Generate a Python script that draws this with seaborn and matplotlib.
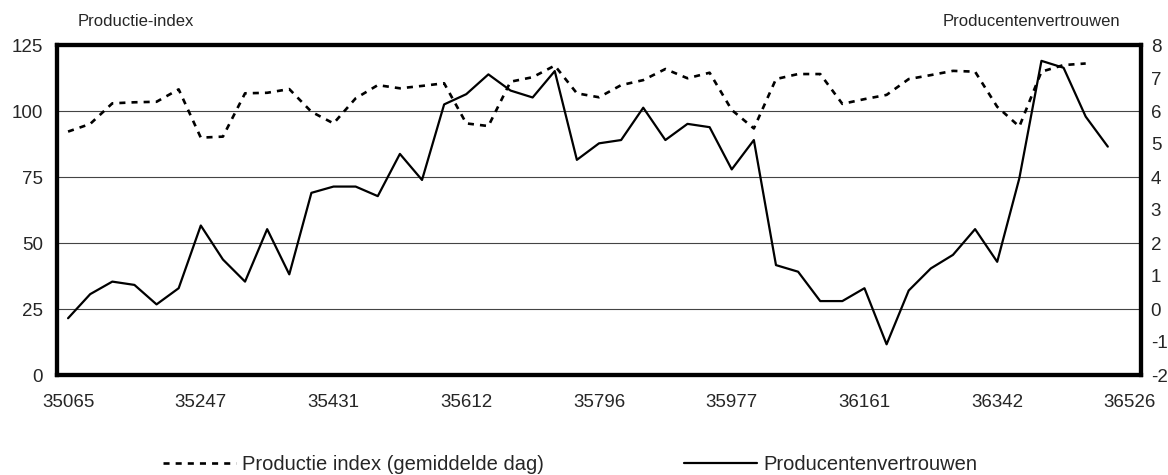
import numpy as np
import pandas as pd
import seaborn as sns
import matplotlib.pyplot as plt

# maanden jan 1996 .. jan 2000, as Excel serial numbers
months = pd.date_range('1996-01-01', periods=49, freq='MS')
serials = [(m - pd.Timestamp('1899-12-30')).days for m in months]

productie_index = [92.2, 95.1, 102.9, 103.3, 103.5, 108.2, 89.9, 90.3, 106.7, 106.9,
                   108.3, 99.7, 95.3, 104.8, 109.8, 108.6, 109.5, 110.5, 95.3, 94.3,
                   111.1, 112.8, 117.2, 106.7, 105.2, 109.8, 111.7, 115.9, 112.4, 114.5,
                   100.4, 93.4, 112.1, 114.0, 114.0, 102.7, 104.5, 106.1, 112.1, 113.6,
                   115.2, 114.9, 101.6, 94.1, 114.9, 117.4, 118.0]

producentenvertrouwen = [-0.28, 0.45, 0.83, 0.73, 0.14, 0.63, 2.53, 1.5, 0.83, 2.42,
                         1.05, 3.52, 3.71, 3.71, 3.42, 4.7, 3.91, 6.2, 6.51, 7.11,
                         6.62, 6.41, 7.21, 4.52, 5.02, 5.12, 6.1, 5.12, 5.61, 5.51,
                         4.23, 5.12, 1.33, 1.13, 0.24, 0.24, 0.63, -1.07, 0.56, 1.23,
                         1.64, 2.42, 1.43, 3.96, 7.52, 7.31, 5.83, 4.92]

sns.set_style('white')
plt.rcParams['font.family'] = ['Liberation Sans', 'DejaVu Sans']
plt.rcParams['axes.unicode_minus'] = False

fig = plt.figure(figsize=(11.68, 4.75), dpi=100)
ax = fig.add_axes([57 / 1168, 1 - 375 / 475, (1141 - 57) / 1168, 330 / 475])
ax2 = ax.twinx()

sns.lineplot(x=np.arange(len(productie_index)), y=productie_index, ax=ax,
             color='black', linewidth=1.9, linestyle=(0, (2.3, 2.3)),
             label='Productie index (gemiddelde dag)')
sns.lineplot(x=np.arange(len(producentenvertrouwen)), y=producentenvertrouwen, ax=ax2,
             color='black', linewidth=1.6, label='Producentenvertrouwen')

ax.set_xlim(-0.5, 48.5)
ax.set_ylim(0, 125)
ax2.set_ylim(-2, 8)
ax.set_yticks([0, 25, 50, 75, 100, 125])
ax2.set_yticks(range(-2, 9))

ax.set_xticks(range(0, 49, 6))
ax.set_xticklabels([str(s) for s in serials[::6]])
ax.set_xticks(np.arange(0.5, 48, 1), minor=True)

ax.grid(False)
ax2.grid(False)
for v in [25, 50, 75, 100]:
    ax.axhline(v, color='#444444', linewidth=0.8, zorder=0)

ax.tick_params(axis='x', which='major', length=0, pad=14, labelsize=13.5)
ax.tick_params(axis='x', which='minor', direction='in', length=4, width=1, color='black')
ax.tick_params(axis='y', length=0, pad=10, labelsize=13.5)
ax2.tick_params(axis='y', length=0, pad=7, labelsize=13.5)
ax.set_xlabel('')
ax.set_ylabel('')
ax2.set_ylabel('')

for a in (ax, ax2):
    for sp in a.spines.values():
        sp.set_visible(True)
        sp.set_color('black')
        sp.set_linewidth(3)

fig.text(78 / 1168, 1 - 22 / 475, 'Productie-index', fontsize=12, va='center', ha='left')
fig.text(1120 / 1168, 1 - 22 / 475, 'Producentenvertrouwen', fontsize=12, va='center', ha='right')

h1, l1 = ax.get_legend_handles_labels()
h2, l2 = ax2.get_legend_handles_labels()
ax.get_legend().remove()
ax2.get_legend().remove()
fig.legend(h1 + h2, l1 + l2, loc='center', bbox_to_anchor=(570 / 1168, 1 - 465 / 475),
           ncol=2, frameon=False, fontsize=14.5, handlelength=3.6, handletextpad=0.3,
           columnspacing=7.0)

fig.savefig('out.png', dpi=100)
